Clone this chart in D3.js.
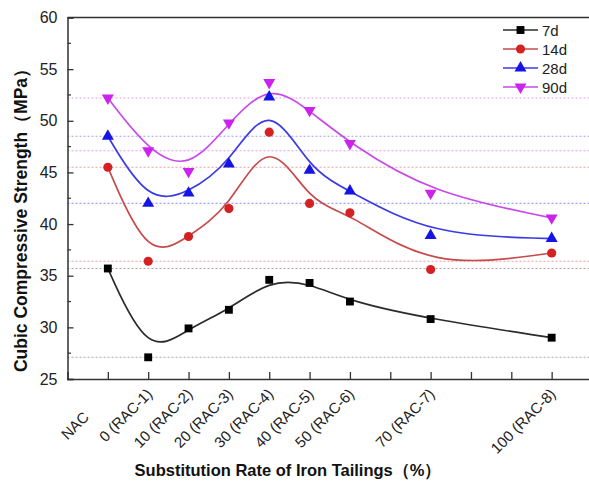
<!DOCTYPE html>
<html>
<head>
<meta charset="utf-8">
<script src="https://cdn.jsdelivr.net/npm/d3@7"></script>
<style>
  html, body { margin: 0; padding: 0; background: #fff; }
  svg { display: block; font-family: "Liberation Sans", Arial, sans-serif; }
</style>
</head>
<body>
<svg id="chart" width="589" height="481"></svg>
<script>
// Substitution rate positions (NAC drawn one step left of 0 %)
const rates = [-10, 0, 10, 20, 30, 40, 50, 70, 100];
const categories = ["NAC", "0 (RAC-1)", "10 (RAC-2)", "20 (RAC-3)", "30 (RAC-4)",
                    "40 (RAC-5)", "50 (RAC-6)", "70 (RAC-7)", "100 (RAC-8)"];

// Cubic compressive strength (MPa) by curing age
const strength7d  = [35.7, 27.1, 29.9, 31.7, 34.6, 34.3, 32.5, 30.8, 29.0];
const strength14d = [45.5, 36.4, 38.8, 41.5, 48.9, 42.0, 41.1, 35.6, 37.2];
const strength28d = [48.5, 42.0, 43.0, 45.8, 52.3, 45.2, 43.2, 38.9, 38.6];
const strength90d = [52.2, 47.1, 45.1, 49.8, 53.7, 51.0, 47.8, 43.0, 40.6];

const seriesNames = ["7d", "14d", "28d", "90d"];
const yTicks = [25, 30, 35, 40, 45, 50, 55, 60];
const xTickRates = [-10, 0, 10, 20, 30, 40, 50, 60, 70, 80, 90, 100];

const series = [
  { name: seriesNames[0], values: strength7d,  line: "#2b2b2b", fill: "#000000", ref: "#b0a0a8", symbol: d3.symbolSquare },
  { name: seriesNames[1], values: strength14d, line: "#c84a4a", fill: "#d42222", ref: "#e8a0a0", symbol: d3.symbolCircle },
  { name: seriesNames[2], values: strength28d, line: "#3a3ae6", fill: "#1414e6", ref: "#a0a0f0", symbol: d3.symbolTriangle },
  { name: seriesNames[3], values: strength90d, line: "#c84ae8", fill: "#cc22ee", ref: "#e6a0f0", symbol: "down" }
];

const svg = d3.select("#chart");
const plotL = 67.5, plotR = 592, plotT = 17.5, plotB = 379;

const x = d3.scaleLinear().domain([-20, 110]).range([plotL, plotR]);
const y = d3.scaleLinear().domain([25, 60]).range([plotB, plotT]);

// Dotted reference levels at the NAC and RAC-1 strengths of each age
const refs = svg.append("g");
series.forEach(s => {
  [s.values[0], s.values[1]].forEach(v => {
    refs.append("line")
      .attr("x1", plotL).attr("x2", plotR)
      .attr("y1", y(v)).attr("y2", y(v))
      .attr("stroke", s.ref).attr("stroke-width", 1.1)
      .attr("stroke-dasharray", "2,2");
  });
});

// Smoothed strength curves
const curve = d3.line().x(d => x(d[0])).y(d => y(d[1])).curve(d3.curveBasis);
series.forEach(s => {
  svg.append("path")
    .attr("d", curve(rates.map((r, i) => [r, s.values[i]])))
    .attr("fill", "none").attr("stroke", s.line).attr("stroke-width", 1.7);
});

// Marker drawing
function marker(g, s, cx, cy) {
  if (s.symbol === "down") {
    g.append("path")
      .attr("d", d3.symbol(d3.symbolTriangle).size(62)())
      .attr("transform", `translate(${cx},${cy}) rotate(180)`)
      .attr("fill", s.fill);
  } else {
    const size = s.symbol === d3.symbolSquare ? 62 : s.symbol === d3.symbolCircle ? 66 : 62;
    g.append("path")
      .attr("d", d3.symbol(s.symbol).size(size)())
      .attr("transform", `translate(${cx},${cy})`)
      .attr("fill", s.fill);
  }
}

const marks = svg.append("g");
series.forEach(s => {
  rates.forEach((r, i) => marker(marks, s, x(r), y(s.values[i])));
});

// Frame and axes
const axisColor = "#333";
svg.append("line").attr("x1", plotL).attr("x2", plotR).attr("y1", plotT).attr("y2", plotT)
  .attr("stroke", axisColor).attr("stroke-width", 1.5);

const yAxis = d3.axisLeft(y).tickValues(yTicks).tickSize(-6).tickPadding(10)
  .tickFormat(d3.format("d"));
const yg = svg.append("g").attr("transform", `translate(${plotL},0)`).call(yAxis);
yg.select(".domain").attr("stroke", axisColor).attr("stroke-width", 1.5);
yg.selectAll(".tick line").attr("stroke", axisColor).attr("stroke-width", 1.3);
yg.selectAll(".tick text").attr("font-size", 16).attr("fill", "#222")
  .attr("font-family", "Liberation Sans, Arial, sans-serif");

// Minor y ticks
const minorY = d3.range(27.5, 60, 5);
yg.selectAll(".minor").data(minorY).enter().append("line")
  .attr("x1", 0).attr("x2", 3.5).attr("y1", d => y(d)).attr("y2", d => y(d))
  .attr("stroke", axisColor).attr("stroke-width", 1.2);

const xAxis = d3.axisBottom(x).tickValues(xTickRates).tickSize(-7).tickFormat("");
const xg = svg.append("g").attr("transform", `translate(0,${plotB})`).call(xAxis);
xg.select(".domain").attr("stroke", axisColor).attr("stroke-width", 1.5);
xg.selectAll(".tick line").attr("stroke", axisColor).attr("stroke-width", 1.3);

// Rotated category labels
const xl = svg.append("g");
rates.forEach((r, i) => {
  const isNac = i === 0;
  const ax = x(r) + (isNac ? -18 : 5);
  const ay = isNac ? 418 : 395;
  xl.append("text")
    .attr("transform", `translate(${ax},${ay}) rotate(-45)`)
    .attr("text-anchor", "end")
    .attr("font-size", 15).attr("fill", "#222")
    .text(categories[i]);
});

// Axis titles
svg.append("text")
  .attr("x", 288).attr("y", 476)
  .attr("text-anchor", "middle")
  .attr("font-size", 16.5).attr("font-weight", "bold").attr("fill", "#111")
  .text("Substitution Rate of Iron Tailings（%）");

svg.append("text")
  .attr("transform", `translate(27,216) rotate(-90)`)
  .attr("text-anchor", "middle")
  .attr("font-size", 17.5).attr("font-weight", "bold").attr("fill", "#111")
  .text("Cubic Compressive Strength（MPa）");

// Legend
const lg = svg.append("g");
series.forEach((s, i) => {
  const ly = 30 + i * 19;
  lg.append("line").attr("x1", 503).attr("x2", 538).attr("y1", ly).attr("y2", ly)
    .attr("stroke", s.line).attr("stroke-width", 1.6);
  marker(lg, s, 520.5, ly);
  lg.append("text").attr("x", 542).attr("y", ly + 5.5)
    .attr("font-size", 15).attr("fill", "#222").text(s.name);
});
</script>
</body>
</html>
